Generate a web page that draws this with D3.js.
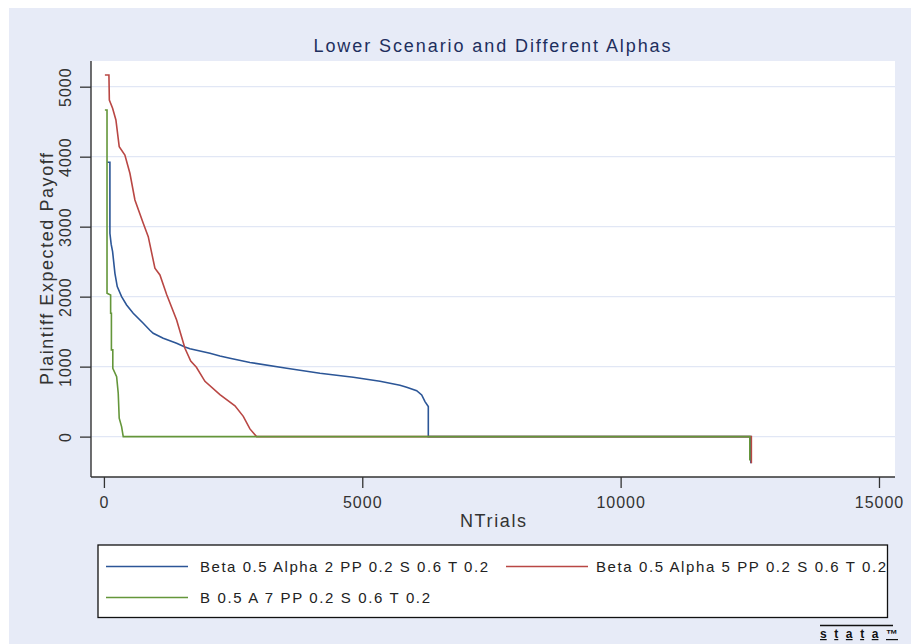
<!DOCTYPE html>
<html>
<head>
<meta charset="utf-8">
<script src="https://cdn.jsdelivr.net/npm/d3@7"></script>
<style>
  body { margin: 0; background: #ffffff; }
  text { font-family: "Liberation Sans", Arial, sans-serif; }
</style>
</head>
<body>
<div id="chart"></div>
<script>
var width = 911;
var height = 644;

// data (NTrials, payoff)
var blueX = [64, 116, 116, 140, 168, 213, 258, 342, 439, 567, 761, 890, 954, 1148, 1407, 1568, 1665, 2052, 2245, 2439, 2826, 3537, 4181, 4826, 5343, 5730, 5859, 6053, 6150, 6214, 6278, 6278, 12520, 12520];
var blueY = [3920, 3920, 2906, 2750, 2643, 2334, 2143, 2000, 1881, 1763, 1620, 1520, 1477, 1406, 1334, 1280, 1255, 1191, 1153, 1120, 1060, 977, 906, 849, 790, 735, 706, 657, 596, 500, 429, 0, 0, -380];

var redX = [19, 97, 105, 168, 232, 296, 406, 503, 600, 761, 858, 987, 1084, 1214, 1407, 1568, 1680, 1790, 1955, 2245, 2536, 2697, 2826, 2955, 12530, 12530];
var redY = [5167, 5167, 4810, 4691, 4524, 4143, 4024, 3763, 3381, 3049, 2857, 2406, 2310, 2030, 1667, 1263, 1080, 990, 790, 600, 440, 290, 110, 0, 0, -380];

var greenX = [19, 60, 60, 130, 130, 145, 145, 172, 172, 246, 277, 296, 342, 374, 12500, 12500];
var greenY = [4667, 4667, 2049, 2024, 1763, 1763, 1239, 1239, 977, 857, 620, 263, 143, 0, 0, -340];

var seriesNames = ["Beta 0.5 Alpha 2 PP 0.2 S 0.6 T 0.2", "Beta 0.5 Alpha 5 PP 0.2 S 0.6 T 0.2", "B 0.5 A 7 PP 0.2 S 0.6 T 0.2"];
var seriesColors = ["#2c5697", "#b94744", "#64963a"];
var xTicks = [0, 5000, 10000, 15000];
var yTicks = [0, 1000, 2000, 3000, 4000, 5000];

var plot = {left: 91, right: 895, top: 61, bottom: 477};

var svg = d3.select("#chart")
  .append("svg")
  .attr("width", width)
  .attr("height", height);

// graph region
svg.append("rect")
  .attr("x", 9).attr("y", 8)
  .attr("width", width - 9).attr("height", height - 8)
  .attr("fill", "#e7ebf7");

svg.append("rect")
  .attr("x", plot.left).attr("y", plot.top)
  .attr("width", plot.right - plot.left).attr("height", plot.bottom - plot.top)
  .attr("fill", "#ffffff");

var x = d3.scaleLinear().domain([-250, 15310]).range([plot.left, plot.right]);
var y = d3.scaleLinear().domain([-577, 5367]).range([plot.bottom, plot.top]);

// grid
svg.append("g")
  .selectAll("line")
  .data(yTicks)
  .join("line")
    .attr("x1", plot.left).attr("x2", plot.right)
    .attr("y1", d => y(d)).attr("y2", d => y(d))
    .attr("stroke", "#e1e7f5")
    .attr("stroke-width", 1.2);

// series
var series = [
  {xs: blueX, ys: blueY},
  {xs: redX, ys: redY},
  {xs: greenX, ys: greenY}
];

var line = d3.line()
  .x(d => x(d[0]))
  .y(d => y(d[1]));

series.forEach(function(s, i) {
  svg.append("path")
    .datum(d3.zip(s.xs, s.ys))
    .attr("fill", "none")
    .attr("stroke", seriesColors[i])
    .attr("stroke-width", 1.6)
    .attr("d", line);
});

// axes
var yAxis = svg.append("g")
  .attr("transform", "translate(" + plot.left + ",0)")
  .call(d3.axisLeft(y).tickValues(yTicks).tickSize(11).tickSizeOuter(0).tickFormat(d3.format("d")));

yAxis.select(".domain").attr("stroke", "#333").attr("stroke-width", 1.4)
  .attr("d", "M0," + plot.top + "V" + plot.bottom);
yAxis.selectAll(".tick line").attr("stroke", "#333").attr("stroke-width", 1.3);
yAxis.selectAll(".tick text")
  .attr("transform", "rotate(-90)")
  .attr("x", 0)
  .attr("y", -20)
  .attr("dy", null)
  .attr("text-anchor", "middle")
  .attr("font-size", 16)
  .attr("letter-spacing", 1)
  .attr("font-family", "Liberation Sans")
  .attr("fill", "#333");

var xAxis = svg.append("g")
  .attr("transform", "translate(0," + plot.bottom + ")")
  .call(d3.axisBottom(x).tickValues(xTicks).tickSize(11).tickSizeOuter(0).tickFormat(d3.format("d")));

xAxis.select(".domain").attr("stroke", "#333").attr("stroke-width", 1.4)
  .attr("d", "M" + plot.left + ",0H" + plot.right);
xAxis.selectAll(".tick line").attr("stroke", "#333").attr("stroke-width", 1.3);
xAxis.selectAll(".tick text")
  .attr("y", 31)
  .attr("dy", null)
  .attr("font-size", 16)
  .attr("letter-spacing", 1)
  .attr("font-family", "Liberation Sans")
  .attr("fill", "#333");

// titles
svg.append("text")
  .attr("x", 492)
  .attr("y", 52)
  .attr("text-anchor", "middle")
  .attr("font-size", 18)
  .attr("textLength", 357)
  .attr("lengthAdjust", "spacing")
  .attr("fill", "#1e2f5e")
  .text("Lower Scenario and Different Alphas");

svg.append("text")
  .attr("x", (plot.left + plot.right) / 2)
  .attr("y", 527)
  .attr("text-anchor", "middle")
  .attr("font-size", 18)
  .attr("textLength", 66)
  .attr("lengthAdjust", "spacing")
  .attr("fill", "#333")
  .text("NTrials");

svg.append("text")
  .attr("transform", "translate(53," + (plot.top + plot.bottom) / 2 + ") rotate(-90)")
  .attr("text-anchor", "middle")
  .attr("font-size", 18)
  .attr("textLength", 232)
  .attr("lengthAdjust", "spacing")
  .attr("fill", "#333")
  .text("Plaintiff Expected Payoff");

// legend
var legend = svg.append("g");
legend.append("rect")
  .attr("x", 98).attr("y", 545)
  .attr("width", 789.5).attr("height", 72.5)
  .attr("fill", "#ffffff")
  .attr("stroke", "#111")
  .attr("stroke-width", 1.3);

var legendPos = [
  {lx: 106, ly: 566.5, tx: 200, len: 288},
  {lx: 506, ly: 566.5, tx: 596, len: 290},
  {lx: 106, ly: 597.5, tx: 200, len: 230}
];

legendPos.forEach(function(p, i) {
  legend.append("line")
    .attr("x1", p.lx).attr("x2", p.lx + 82)
    .attr("y1", p.ly).attr("y2", p.ly)
    .attr("stroke", seriesColors[i])
    .attr("stroke-width", 1.5);
  legend.append("text")
    .attr("x", p.tx)
    .attr("y", p.ly + 5)
    .attr("font-size", 15)
    .attr("textLength", p.len)
    .attr("lengthAdjust", "spacing")
    .attr("fill", "#222")
    .text(seriesNames[i]);
});

// stata mark
svg.append("line")
  .attr("x1", 820).attr("x2", 893)
  .attr("y1", 625.5).attr("y2", 625.5)
  .attr("stroke", "#111")
  .attr("stroke-width", 1.3);
svg.append("text")
  .attr("x", 820)
  .attr("y", 638)
  .attr("font-size", 12)
  .attr("font-weight", "bold")
  .attr("textLength", 78)
  .attr("lengthAdjust", "spacing")
  .attr("text-decoration", "underline")
  .attr("fill", "#111")
  .text("stata™");
</script>
</body>
</html>
